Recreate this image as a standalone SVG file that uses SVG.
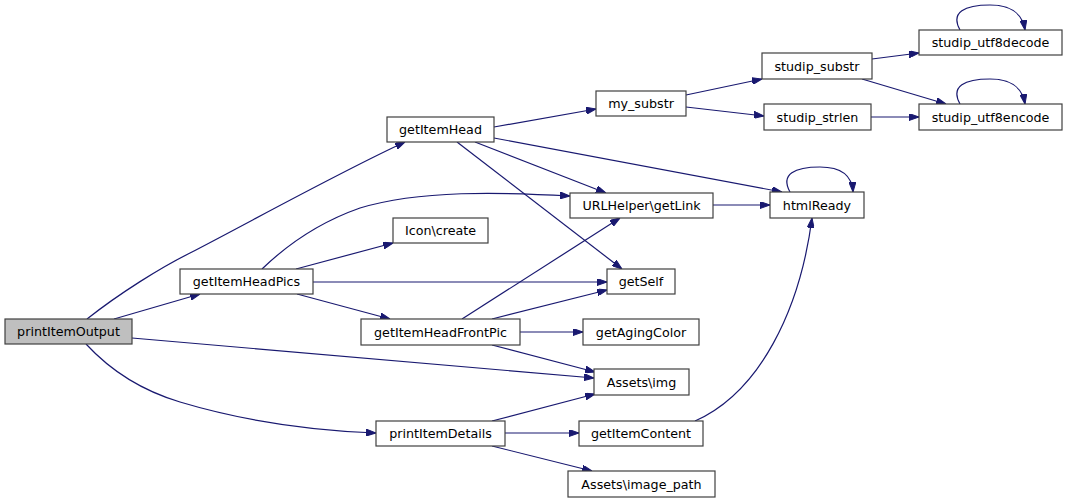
<svg xmlns="http://www.w3.org/2000/svg" width="1068" height="503" viewBox="0 0 1068 503">
<style>
.n rect{fill:#ffffff;stroke:#404040;stroke-width:1.2}
.n.root rect{fill:#bfbfbf}
.n text{font-family:"DejaVu Sans",sans-serif;font-size:12.7px;text-anchor:middle;fill:#000}
.e path{fill:none;stroke:#191970;stroke-width:1.2;marker-end:url(#ah)}
</style>
<defs>
<marker id="ah" viewBox="0 0 10 7" refX="10" refY="3.5" markerWidth="10" markerHeight="7" markerUnits="userSpaceOnUse" orient="auto">
<path d="M0,0 L10,3.5 L0,7 Z" fill="#191970" stroke="#191970"/>
</marker>
</defs>
<rect width="1068" height="503" fill="#ffffff"/>
<g class="e" id="edges">
<path d="M87,319 C120,293 160,268 190,253 C250,222 340,172 405,142"/>
<path d="M114,319 L200,294"/>
<path d="M132,338 L594,378"/>
<path d="M86,344 C110,370 140,390 180,402 C240,420 300,430 376,433"/>
<path d="M262,269 C290,242 320,222 360,208 C420,190 500,192 570,196"/>
<path d="M296,269 L393,243"/>
<path d="M313,282 L607,282"/>
<path d="M297,294 L390,319"/>
<path d="M494,127 L596,109"/>
<path d="M475,142 L606,193"/>
<path d="M457,142 L622,269"/>
<path d="M494,138 L782,192"/>
<path d="M686,95 L762,79"/>
<path d="M686,107 L764,116"/>
<path d="M872,59 L919,53"/>
<path d="M862,79 L946,104"/>
<path d="M871,117 L919,117"/>
<path d="M960,30 C950,12 965,5 990,5 C1010,5 1022,12 1025,30"/>
<path d="M960,104 C950,86 965,79 990,79 C1010,79 1022,86 1025,104"/>
<path d="M790,192 C780,174 795,167 820,167 C840,167 852,174 853,192"/>
<path d="M713,205 L770,205"/>
<path d="M462,319 L620,218"/>
<path d="M492,319 L607,290"/>
<path d="M520,332 L583,332"/>
<path d="M492,345 L595,372"/>
<path d="M492,421 L595,394"/>
<path d="M505,433 L579,433"/>
<path d="M492,446 L592,471"/>
<path d="M695,421 C760,392 800,310 812,218"/>
</g>
<g class="n root" id="printItemOutput"><rect x="5" y="319" width="127" height="25"/><text x="68.5" y="336">printItemOutput</text></g>
<g class="n" id="getItemHeadPics"><rect x="180" y="269" width="133" height="25"/><text x="246.5" y="286">getItemHeadPics</text></g>
<g class="n" id="getItemHead"><rect x="387" y="117" width="107" height="25"/><text x="440.5" y="134">getItemHead</text></g>
<g class="n" id="my_substr"><rect x="596" y="91" width="90" height="25"/><text x="641" y="108">my_substr</text></g>
<g class="n" id="URLHelper_getLink"><rect x="570" y="193" width="143" height="25"/><text x="641.5" y="210">URLHelper\getLink</text></g>
<g class="n" id="Icon_create"><rect x="393" y="218" width="95" height="25"/><text x="440.5" y="235">Icon\create</text></g>
<g class="n" id="getSelf"><rect x="607" y="269" width="68" height="25"/><text x="641" y="286">getSelf</text></g>
<g class="n" id="getItemHeadFrontPic"><rect x="361" y="319" width="159" height="26"/><text x="440.5" y="336.5">getItemHeadFrontPic</text></g>
<g class="n" id="getAgingColor"><rect x="583" y="319" width="116" height="26"/><text x="641" y="336.5">getAgingColor</text></g>
<g class="n" id="Assets_img"><rect x="594" y="369" width="95" height="26"/><text x="641.5" y="386.5">Assets\img</text></g>
<g class="n" id="printItemDetails"><rect x="376" y="421" width="129" height="25"/><text x="440.5" y="438">printItemDetails</text></g>
<g class="n" id="getItemContent"><rect x="579" y="421" width="124" height="25"/><text x="641" y="438">getItemContent</text></g>
<g class="n" id="Assets_image_path"><rect x="568" y="471" width="147" height="26"/><text x="641.5" y="488.5">Assets\image_path</text></g>
<g class="n" id="studip_substr"><rect x="762" y="53" width="110" height="26"/><text x="817" y="70.5">studip_substr</text></g>
<g class="n" id="studip_utf8decode"><rect x="919" y="30" width="143" height="25"/><text x="990.5" y="47">studip_utf8decode</text></g>
<g class="n" id="studip_strlen"><rect x="764" y="104" width="107" height="26"/><text x="817.5" y="121.5">studip_strlen</text></g>
<g class="n" id="studip_utf8encode"><rect x="919" y="104" width="143" height="26"/><text x="990.5" y="121.5">studip_utf8encode</text></g>
<g class="n" id="htmlReady"><rect x="770" y="192" width="94" height="26"/><text x="817" y="209.5">htmlReady</text></g>
</svg>
